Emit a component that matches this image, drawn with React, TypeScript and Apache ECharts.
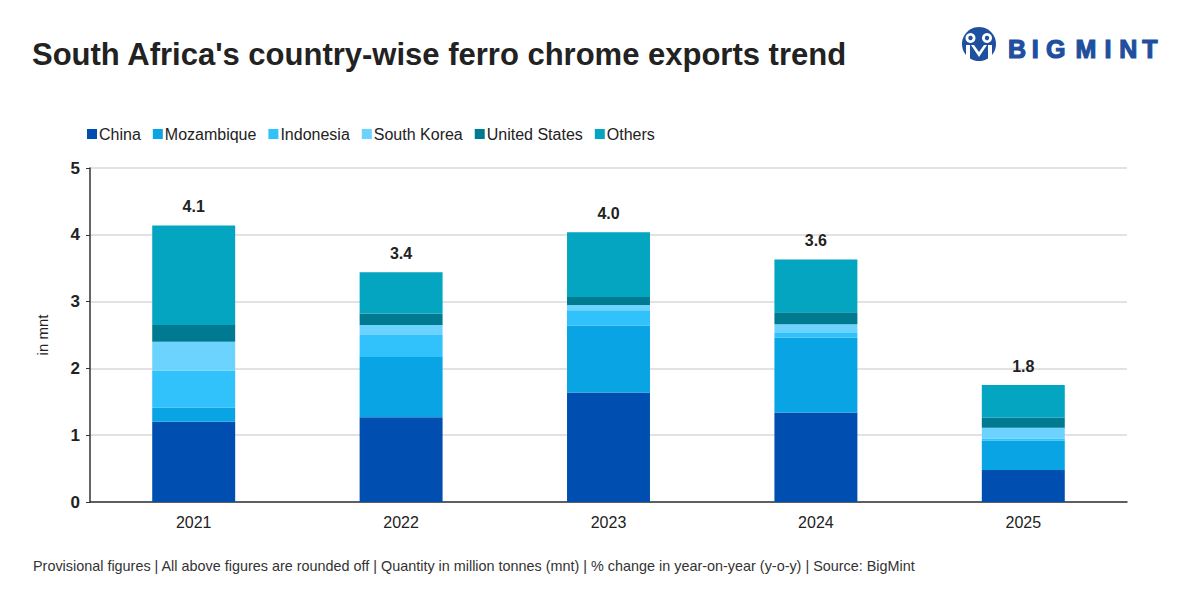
import React, { useEffect, useRef } from "react";
import * as echarts from "echarts";

const years = ["2021", "2022", "2023", "2024", "2025"];
const china = [1.2, 1.27, 1.64, 1.34, 0.48];
const mozambique = [0.21, 0.9, 1.0, 1.12, 0.44];
const indonesia = [0.56, 0.33, 0.23, 0.07, 0.03];
const southKorea = [0.43, 0.15, 0.08, 0.13, 0.16];
const unitedStates = [0.25, 0.17, 0.12, 0.18, 0.15];
const others = [1.49, 0.62, 0.97, 0.79, 0.49];
const totalLabels = ["4.1", "3.4", "4.0", "3.6", "1.8"];

const seriesNames = ["China", "Mozambique", "Indonesia", "South Korea", "United States", "Others"];
const seriesColors = ["#004fb0", "#08a4e4", "#31c1fb", "#6bd3fd", "#007a91", "#03a5c0"];

const TEXT = "#222222";
const FONT = "'Liberation Sans', Arial, sans-serif";

export default function App() {
  const ref = useRef<HTMLDivElement>(null);

  useEffect(() => {
    if (!ref.current) return;
    const chart = echarts.init(ref.current, null, { renderer: "svg" });
    const data = [china, mozambique, indonesia, southKorea, unitedStates, others];

    const logoLetters = ["B", "I", "G", "M", "I", "N", "T"];
    const letterX = [1017, 1035.3, 1055.8, 1085.8, 1108, 1128.3, 1150];
    const logoBlue = "#1f4f9f";

    const series: any[] = seriesNames.map((name, i) => ({
      name,
      type: "bar",
      stack: "total",
      barWidth: "40%",
      data: data[i],
      itemStyle: { color: seriesColors[i] },
      label:
        i === seriesNames.length - 1
          ? {
              show: true,
              position: "top",
              distance: 11,
              formatter: (p: any) => totalLabels[p.dataIndex],
              color: TEXT,
              fontFamily: FONT,
              fontWeight: "bold",
              fontSize: 16,
            }
          : { show: false },
    }));

    chart.setOption({
      animation: false,
      backgroundColor: "#ffffff",
      textStyle: { fontFamily: FONT },
      grid: { left: 90, right: 73, top: 168, bottom: 98, containLabel: false },
      legend: {
        left: 82,
        top: 121,
        itemWidth: 10,
        itemHeight: 10,
        itemGap: 12,
        icon: "rect",
        data: seriesNames,
        textStyle: { color: TEXT, fontSize: 16, fontFamily: FONT, padding: [0, 0, 0, -3] },
      },
      xAxis: {
        type: "category",
        data: years,
        axisLine: { show: true, lineStyle: { color: "#333333", width: 1.5 } },
        axisTick: { show: false },
        axisLabel: { color: TEXT, fontSize: 16, fontFamily: FONT, margin: 12 },
      },
      yAxis: {
        type: "value",
        min: 0,
        max: 5,
        interval: 1,
        name: "in mnt",
        nameLocation: "middle",
        nameGap: 40,
        nameRotate: 90,
        nameTextStyle: { color: TEXT, fontSize: 15, fontFamily: FONT },
        axisLine: { show: true, lineStyle: { color: "#333333", width: 1.5 } },
        axisTick: { show: true, length: 4, lineStyle: { color: "#333333" } },
        axisLabel: { color: TEXT, fontSize: 17, fontWeight: "bold", fontFamily: FONT, margin: 10 },
        splitLine: { show: true, lineStyle: { color: "#d9d9d9", width: 1.5 } },
      },
      series,
      graphic: [
        {
          type: "text",
          left: 32,
          top: 38.5,
          style: {
            text: "South Africa's country-wise ferro chrome exports trend",
            fill: TEXT,
            font: `bold 31px ${FONT}`,
          },
        },
        {
          type: "text",
          left: 33,
          top: 559,
          style: {
            text: "Provisional figures | All above figures are rounded off | Quantity in million tonnes (mnt) | % change in year-on-year (y-o-y) | Source: BigMint",
            fill: "#333333",
            font: `14.4px ${FONT}`,
          },
        },
        {
          type: "group",
          children: [
            { type: "circle", shape: { cx: 979, cy: 44, r: 17 }, style: { fill: logoBlue } },
            { type: "circle", shape: { cx: 970.5, cy: 38, r: 5 }, style: { fill: "#ffffff" } },
            { type: "circle", shape: { cx: 987, cy: 38, r: 5 }, style: { fill: "#ffffff" } },
            { type: "circle", shape: { cx: 970.5, cy: 38, r: 2.2 }, style: { fill: logoBlue } },
            { type: "circle", shape: { cx: 987, cy: 38, r: 2.2 }, style: { fill: logoBlue } },
            { type: "rect", shape: { x: 966, y: 45, width: 4, height: 15 }, style: { fill: "#ffffff" } },
            { type: "rect", shape: { x: 988, y: 45, width: 4, height: 15 }, style: { fill: "#ffffff" } },
            { type: "polygon", shape: { points: [[971, 45], [979, 57], [987, 45], [984, 45], [979, 52], [974, 45]] }, style: { fill: "#ffffff" } },
            ...logoLetters.map((ch, i) => ({
              type: "text",
              x: letterX[i],
              y: 49,
              style: {
                text: ch,
                fill: logoBlue,
                font: `bold 25px ${FONT}`,
                textAlign: "center",
                textVerticalAlign: "middle",
                stroke: logoBlue,
                lineWidth: 1.2,
              },
            })),
          ],
        },
      ],
    });

    return () => chart.dispose();
  }, []);

  return <div ref={ref} style={{ width: 1200, height: 600, margin: -8 }} />;
}
